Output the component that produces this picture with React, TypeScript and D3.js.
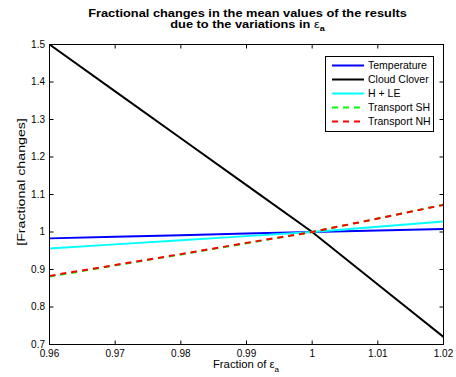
import React from "react";
import * as d3 from "d3";

const xValues = [0.96, 0.97, 0.98, 0.99, 1.0, 1.01, 1.02];
const temperature = [0.983, 0.9873, 0.9915, 0.9958, 1.0, 1.004, 1.008];
const cloudClover = [1.5, 1.375, 1.25, 1.125, 1.0, 0.86, 0.72];
const hle = [0.956, 0.967, 0.978, 0.989, 1.0, 1.014, 1.028];
const transportSH = [0.881, 0.911, 0.94, 0.97, 1.0, 1.036, 1.073];
const transportNH = [0.883, 0.912, 0.941, 0.971, 1.0, 1.036, 1.072];
const xTicks = [0.96, 0.97, 0.98, 0.99, 1, 1.01, 1.02];
const xTickLabels = ["0.96", "0.97", "0.98", "0.99", "1", "1.01", "1.02"];
const yTicks = [0.7, 0.8, 0.9, 1, 1.1, 1.2, 1.3, 1.4, 1.5];
const yTickLabels = ["0.7", "0.8", "0.9", "1", "1.1", "1.2", "1.3", "1.4", "1.5"];

const series = [
  { name: "Temperature", values: temperature, color: "#0000ff", dash: "" },
  { name: "Cloud Clover", values: cloudClover, color: "#000000", dash: "" },
  { name: "H + LE", values: hle, color: "#00ffff", dash: "" },
  { name: "Transport SH", values: transportSH, color: "#00ff00", dash: "6,5" },
  { name: "Transport NH", values: transportNH, color: "#ff0000", dash: "6,5" },
];

export default function App() {
  const W = 456, H = 377;
  const L = 49.5, R = 443.5, T = 44.5, B = 344.5;
  const x = d3.scaleLinear().domain([0.96, 1.02]).range([L, R]);
  const y = d3.scaleLinear().domain([0.7, 1.5]).range([B, T]);
  const line = d3.line<number>().x((_, i) => x(xValues[i])).y((v) => y(v));
  const font = "Liberation Sans, Arial, Helvetica, sans-serif";
  const tl = 4;
  const legX = 325.5, legY = 56.5, legW = 108, legH = 75;
  const cx = 247.5;
  return (
    <div style={{ position: "absolute", left: 0, top: 0 }}>
      <svg width={W} height={H} style={{ display: "block", background: "#fff" }} fontFamily={font}>
        <rect x={0} y={0} width={W} height={H} fill="#fff" />
        <defs>
          <clipPath id="clip">
            <rect x={L} y={T} width={R - L} height={B - T} />
          </clipPath>
        </defs>
        <g clipPath="url(#clip)">
          {series.map((s) => (
            <path key={s.name} d={line(s.values) || ""} fill="none" stroke={s.color} strokeWidth={2} strokeDasharray={s.dash || undefined} />
          ))}
        </g>
        {xTicks.map((t, i) => (
          <g key={"x" + i}>
            <line x1={x(t)} x2={x(t)} y1={B} y2={B - tl} stroke="#000" />
            <line x1={x(t)} x2={x(t)} y1={T} y2={T + tl} stroke="#000" />
            <text x={x(t)} y={357} fontSize={10} textAnchor="middle" fill="#000">{xTickLabels[i]}</text>
          </g>
        ))}
        {yTicks.map((t, i) => (
          <g key={"y" + i}>
            <line x1={L} x2={L + tl} y1={y(t)} y2={y(t)} stroke="#000" />
            <line x1={R} x2={R - tl} y1={y(t)} y2={y(t)} stroke="#000" />
            <text x={45} y={y(t) + 3} fontSize={10} textAnchor="end" fill="#000">{yTickLabels[i]}</text>
          </g>
        ))}
        <rect x={L} y={T} width={R - L} height={B - T} fill="none" stroke="#000" strokeWidth={1} />
        <rect x={legX} y={legY} width={legW} height={legH} fill="#fff" stroke="#000" strokeWidth={1} />
        {series.map((s, i) => {
          const yy = 65.5 + i * 14;
          return (
            <g key={"l" + i}>
              <line x1={332} x2={364} y1={yy} y2={yy} stroke={s.color} strokeWidth={2} strokeDasharray={s.dash || undefined} />
              <text x={368} y={yy + 3.7} fontSize={10.5} fill="#000">{s.name}</text>
            </g>
          );
        })}
        <g transform={`translate(${cx},0) scale(1.22,1)`}>
          <text x={0} y={17.5} fontSize={10.5} fontWeight="bold" textAnchor="middle" fill="#000">
            Fractional changes in the mean values of the results
          </text>
          <text x={0} y={28} fontSize={10.5} fontWeight="bold" textAnchor="middle" fill="#000">
            due to the variations in <tspan fontWeight="normal">ε</tspan><tspan fontSize={7.5} dy={3.5}>a</tspan>
          </text>
        </g>
        <g transform={`translate(246,0) scale(1.08,1)`}>
          <text x={0} y={368.5} fontSize={10.5} textAnchor="middle" fill="#000">
            Fraction of ε<tspan fontSize={7.5} dy={3.5}>a</tspan>
          </text>
        </g>
        <g transform={`translate(24.5, 182) rotate(-90) scale(1.35,1)`}>
          <text x={0} y={0} fontSize={10.5} textAnchor="middle" fill="#000">
            [Fractional changes]
          </text>
        </g>
      </svg>
    </div>
  );
}
